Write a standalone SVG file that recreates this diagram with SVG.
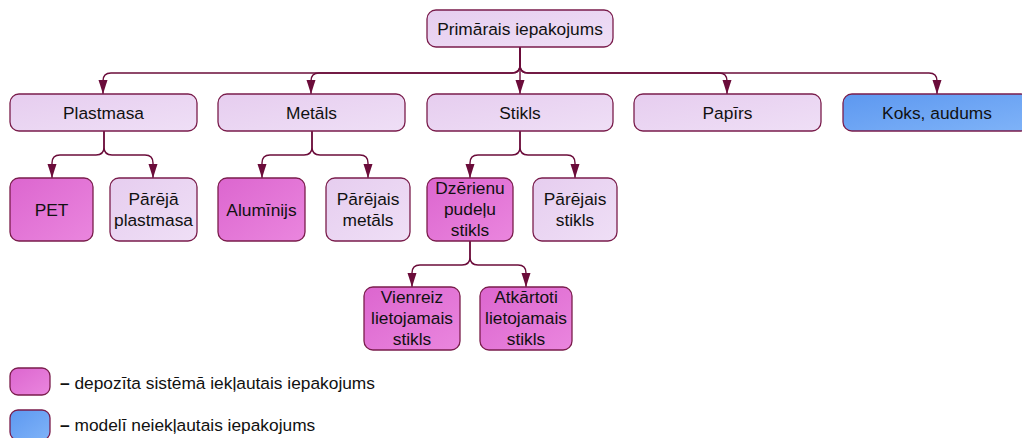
<svg xmlns="http://www.w3.org/2000/svg" width="1022" height="438" viewBox="0 0 1022 438">
  <style>
    .box { stroke: #7a1d4c; stroke-width: 1.3; }
    .lilac { fill: url(#gLilac); }
    .pink { fill: url(#gPink); }
    .blue { fill: url(#gBlue); }
    .lbl { font-family: "Liberation Sans", Arial, sans-serif; font-size: 17.33px; fill: #111; text-anchor: middle; }
    .leg { font-family: "Liberation Sans", Arial, sans-serif; font-size: 17.33px; fill: #111; }
    .dash { font-weight: bold; }
    .conn { fill: none; stroke: #6b0c3a; stroke-width: 1.4; marker-end: url(#arrow); }
  </style>
  <defs>
    <linearGradient id="gLilac" x1="0" y1="0" x2="1" y2="1">
      <stop offset="0" stop-color="#e6cdef"/>
      <stop offset="1" stop-color="#efdff6"/>
    </linearGradient>
    <linearGradient id="gPink" x1="0" y1="0" x2="1" y2="1">
      <stop offset="0" stop-color="#dc66cf"/>
      <stop offset="1" stop-color="#ea86de"/>
    </linearGradient>
    <linearGradient id="gBlue" x1="0" y1="0" x2="1" y2="1">
      <stop offset="0" stop-color="#5d98f0"/>
      <stop offset="1" stop-color="#7fb3f8"/>
    </linearGradient>
    <marker id="arrow" markerUnits="userSpaceOnUse" markerWidth="14" markerHeight="10" refX="14" refY="5" orient="auto" viewBox="0 0 14 10">
      <path d="M0,0.5 L14,5 L0,9.5 z" fill="#6b0c3a"/>
    </marker>
  </defs>

  <!-- connectors -->
  <g id="connectors">
    <!-- root to materials -->
    <path class="conn" d="M520,47 V65 Q520,73 512,73 H111 Q103,73 103,81 V94"/>
    <path class="conn" d="M520,47 V65 Q520,73 512,73 H319 Q311,73 311,81 V94"/>
    <path class="conn" d="M520,47 V94"/>
    <path class="conn" d="M520,47 V65 Q520,73 528,73 H719 Q727,73 727,81 V94"/>
    <path class="conn" d="M520,47 V65 Q520,73 528,73 H929 Q937,73 937,81 V94"/>
    <!-- Plastmasa -->
    <path class="conn" d="M104,131 V147 Q104,155 96,155 H60 Q52,155 52,163 V178"/>
    <path class="conn" d="M104,131 V147 Q104,155 112,155 H145 Q153,155 153,163 V178"/>
    <!-- Metāls -->
    <path class="conn" d="M312,131 V147 Q312,155 304,155 H270 Q262,155 262,163 V178"/>
    <path class="conn" d="M312,131 V147 Q312,155 320,155 H360 Q368,155 368,163 V178"/>
    <!-- Stikls -->
    <path class="conn" d="M520,131 V147 Q520,155 512,155 H478 Q470,155 470,163 V178"/>
    <path class="conn" d="M520,131 V147 Q520,155 528,155 H567 Q575,155 575,163 V178"/>
    <!-- Dzērienu pudeļu stikls -->
    <path class="conn" d="M470,241 V257 Q470,265 462,265 H420 Q412,265 412,273 V287"/>
    <path class="conn" d="M470,241 V257 Q470,265 478,265 H518 Q526,265 526,273 V287"/>
  </g>

  <g id="root">
    <rect class="box lilac" x="427" y="10" width="186" height="37" rx="9"/>
    <text class="lbl" x="520" y="34.5">Primārais iepakojums</text>
  </g>

  <g id="plastmasa">
    <rect class="box lilac" x="10" y="94" width="187" height="37" rx="9"/>
    <text class="lbl" x="103.5" y="118.5">Plastmasa</text>
  </g>
  <g id="metals">
    <rect class="box lilac" x="218" y="94" width="187" height="37" rx="9"/>
    <text class="lbl" x="311.5" y="118.5">Metāls</text>
  </g>
  <g id="stikls">
    <rect class="box lilac" x="427" y="94" width="186" height="37" rx="9"/>
    <text class="lbl" x="520" y="118.5">Stikls</text>
  </g>
  <g id="papirs">
    <rect class="box lilac" x="634" y="94" width="187" height="37" rx="9"/>
    <text class="lbl" x="727.5" y="118.5">Papīrs</text>
  </g>
  <g id="koks">
    <rect class="box blue" x="843" y="94" width="187" height="37" rx="9"/>
    <text class="lbl" x="937" y="118.5">Koks, audums</text>
  </g>

  <g id="pet">
    <rect class="box pink" x="10" y="178" width="83" height="63" rx="9"/>
    <text class="lbl" x="51.5" y="215.5">PET</text>
  </g>
  <g id="pareja-plastmasa">
    <rect class="box lilac" x="110" y="178" width="87" height="63" rx="9"/>
    <text class="lbl" x="153.5" y="205">Pārējā</text>
    <text class="lbl" x="153.5" y="226">plastmasa</text>
  </g>
  <g id="aluminijs">
    <rect class="box pink" x="218" y="178" width="87" height="63" rx="9"/>
    <text class="lbl" x="261.5" y="215.5">Alumīnijs</text>
  </g>
  <g id="parejais-metals">
    <rect class="box lilac" x="326" y="178" width="84" height="63" rx="9"/>
    <text class="lbl" x="368" y="205">Pārējais</text>
    <text class="lbl" x="368" y="226">metāls</text>
  </g>
  <g id="dzerienu-pudelu-stikls">
    <rect class="box pink" x="427" y="178" width="86" height="63" rx="9"/>
    <text class="lbl" x="470" y="194">Dzērienu</text>
    <text class="lbl" x="470" y="215">pudeļu</text>
    <text class="lbl" x="470" y="236">stikls</text>
  </g>
  <g id="parejais-stikls">
    <rect class="box lilac" x="533" y="178" width="84" height="63" rx="9"/>
    <text class="lbl" x="575" y="205">Pārējais</text>
    <text class="lbl" x="575" y="226">stikls</text>
  </g>

  <g id="vienreiz">
    <rect class="box pink" x="364" y="287" width="96" height="63" rx="9"/>
    <text class="lbl" x="412" y="303">Vienreiz</text>
    <text class="lbl" x="412" y="324">lietojamais</text>
    <text class="lbl" x="412" y="345">stikls</text>
  </g>
  <g id="atkartoti">
    <rect class="box pink" x="480" y="287" width="92" height="63" rx="9"/>
    <text class="lbl" x="526" y="303">Atkārtoti</text>
    <text class="lbl" x="526" y="324">lietojamais</text>
    <text class="lbl" x="526" y="345">stikls</text>
  </g>

  <!-- legend -->
  <g id="legend">
    <rect class="box pink" x="10" y="368" width="40" height="27" rx="8"/>
    <text class="leg" x="60" y="389"><tspan class="dash">–</tspan> depozīta sistēmā iekļautais iepakojums</text>
    <rect class="box blue" x="10" y="410" width="40" height="30" rx="8"/>
    <text class="leg" x="60" y="431"><tspan class="dash">–</tspan> modelī neiekļautais iepakojums</text>
  </g>
</svg>
